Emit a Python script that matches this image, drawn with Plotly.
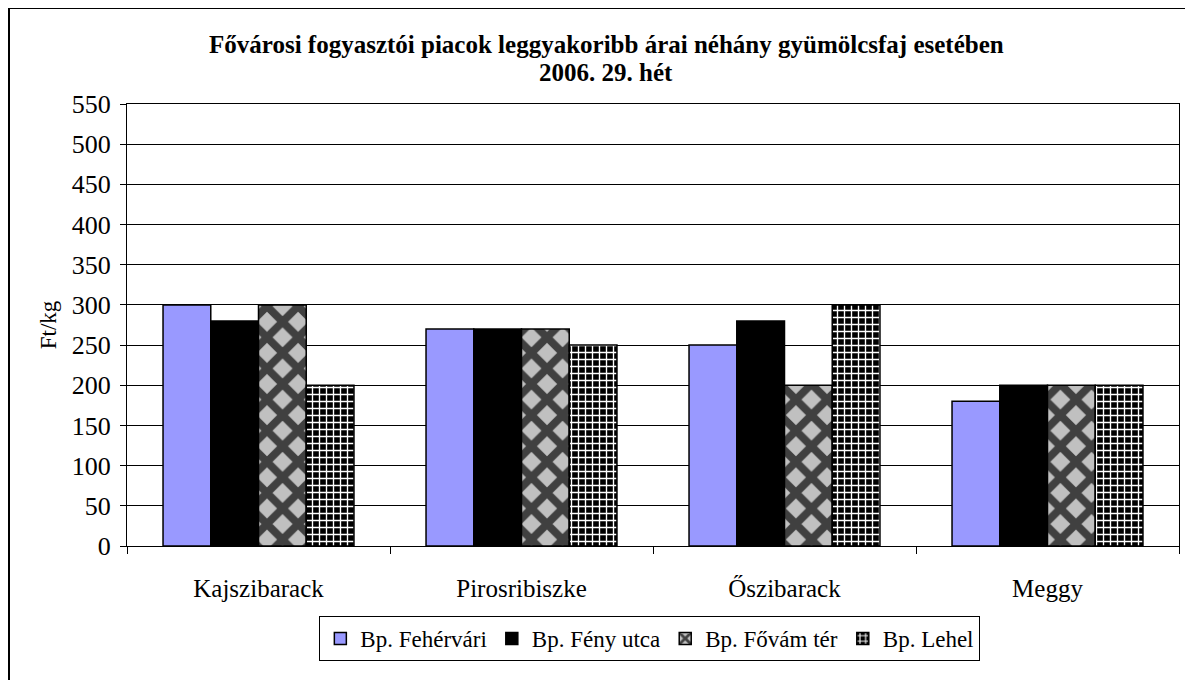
import plotly.graph_objects as go

categories = ["Kajszibarack", "Pirosribiszke", "Őszibarack", "Meggy"]
series_names = ["Bp. Fehérvári", "Bp. Fény utca", "Bp. Fővám tér", "Bp. Lehel"]
fehervari = [300, 270, 250, 180]
feny_utca = [280, 270, 280, 200]
fovam_ter = [300, 270, 200, 200]
lehel = [200, 250, 300, 200]
y_ticks = list(range(0, 551, 50))
title_line1 = "Fővárosi fogyasztói piacok leggyakoribb árai néhány gyümölcsfaj esetében"
title_line2 = "2006. 29. hét"

FONT = "Liberation Serif, Times New Roman, serif"

W, H = 1185, 672
L, T, R, B = 119, 96, 14, 134
PW, PH = W - L - R, H - T - B


def px_x(x):
    return (x - L) / PW


def px_y(y):
    return (H - B - y) / PH


fig = go.Figure()
styles = [
    dict(color="#9999FF"),
    dict(color="#000000"),
    dict(color="#404040", pattern=dict(shape="x", bgcolor="#C0C0C0", fgcolor="#404040",
                                       size=22, solidity=0.58, fillmode="replace")),
    dict(color="#000000", pattern=dict(shape="+", bgcolor="#000000", fgcolor="#FFFFFF",
                                       size=7, solidity=0.35, fillmode="replace")),
]
for name, vals, st in zip(series_names, [fehervari, feny_utca, fovam_ter, lehel], styles):
    fig.add_trace(go.Bar(
        x=categories, y=vals, name=name,
        marker=dict(**st, line=dict(color="#000000", width=1.5)),
    ))

fig.update_layout(
    width=W, height=H,
    margin=dict(l=L, r=R, t=T, b=B, autoexpand=False),
    paper_bgcolor="white", plot_bgcolor="white",
    barmode="group", bargap=0.274, bargroupgap=0,
    font=dict(family=FONT, color="black", size=22),
    legend=dict(
        orientation="h", x=0.497, xanchor="center", y=px_y(608), yanchor="top",
        bordercolor="black", borderwidth=1, font=dict(family=FONT, size=23),
        itemwidth=30, tracegroupgap=0,
    ),
    xaxis=dict(
        showline=True, linecolor="black", linewidth=1, mirror=True,
        ticks="outside", tickson="boundaries", ticklen=7, tickcolor="black",
        tickfont=dict(family=FONT, size=25), ticklabelstandoff=20,
        showgrid=False,
    ),
    yaxis=dict(
        range=[0, 550], tickvals=y_ticks, ticktext=[str(v) for v in y_ticks],
        showline=True, linecolor="black", linewidth=1, mirror=True,
        ticks="outside", ticklen=6, tickcolor="black",
        tickfont=dict(family=FONT, size=26), ticklabelstandoff=4,
        showgrid=True, gridcolor="black", gridwidth=1, zeroline=False,
        title=dict(text="Ft/kg", font=dict(family=FONT, size=23), standoff=8),
    ),
    annotations=[
        dict(text="<b>" + title_line1 + "</b>", xref="paper", yref="paper",
             x=px_x(598), y=px_y(36), xanchor="center", yanchor="middle",
             showarrow=False, font=dict(family=FONT, size=25, color="black")),
        dict(text="<b>" + title_line2 + "</b>", xref="paper", yref="paper",
             x=px_x(598), y=px_y(64), xanchor="center", yanchor="middle",
             showarrow=False, font=dict(family=FONT, size=25, color="black")),
    ],
    shapes=[
        dict(type="line", xref="paper", yref="paper",
             x0=px_x(1), x1=px_x(1), y0=px_y(H + 20), y1=px_y(0),
             line=dict(color="black", width=2)),
        dict(type="line", xref="paper", yref="paper",
             x0=px_x(0), x1=px_x(W + 20), y0=px_y(0), y1=px_y(0),
             line=dict(color="black", width=2)),
    ],
)

fig.write_html("out.html")
